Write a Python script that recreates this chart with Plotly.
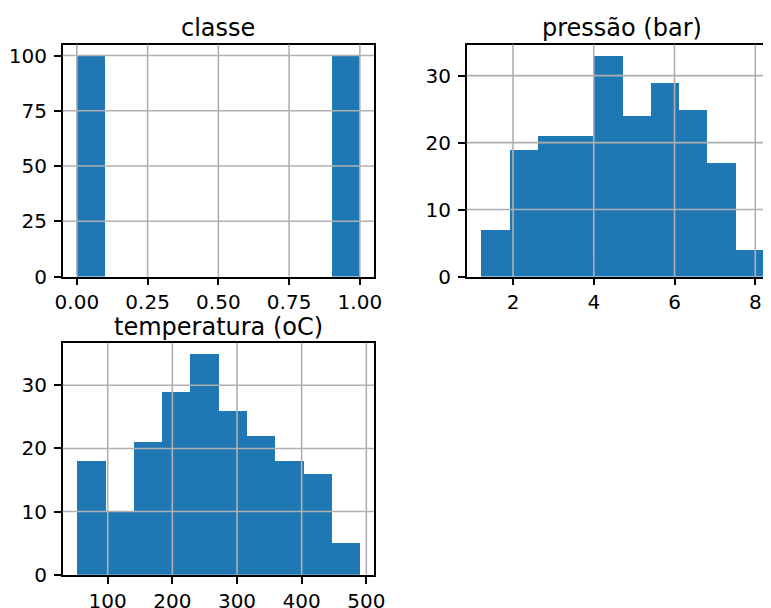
import plotly.graph_objects as go

# ---- data ----
classe_edges = [0.0, 0.1, 0.2, 0.3, 0.4, 0.5, 0.6, 0.7, 0.8, 0.9, 1.0]
classe_counts = [100, 0, 0, 0, 0, 0, 0, 0, 0, 100]

pressao_edges = [1.207, 1.907, 2.607, 3.307, 4.007, 4.707, 5.407, 6.107, 6.807, 7.507, 8.207]
pressao_counts = [7, 19, 21, 21, 33, 24, 29, 25, 17, 4]

temp_edges = [52.5, 96.3, 140.1, 183.9, 227.6, 271.4, 315.2, 359.0, 402.8, 446.6, 490.3]
temp_counts = [18, 10, 21, 29, 35, 26, 22, 18, 16, 5]

titles = ["classe", "pressão (bar)", "temperatura (oC)"]

classe_xticks = [0.0, 0.25, 0.5, 0.75, 1.0]
classe_yticks = [0, 25, 50, 75, 100]
pressao_xticks = [2, 4, 6, 8]
pressao_yticks = [0, 10, 20, 30]
temp_xticks = [100, 200, 300, 400, 500]
temp_yticks = [0, 10, 20, 30]

# ---- style / geometry ----
OFF = 8                      # default page body margin
W, H = 771 - OFF, 608 - OFF
BAR = "#1f77b4"
GRID = "#b0b0b0"
FONT = "DejaVu Sans"

def centers_widths(edges):
    c = [(edges[i] + edges[i + 1]) / 2 for i in range(len(edges) - 1)]
    w = [(edges[i + 1] - edges[i]) for i in range(len(edges) - 1)]
    return c, w

fig = go.Figure()
panels = [
    (classe_edges, classe_counts, "x", "y"),
    (pressao_edges, pressao_counts, "x2", "y2"),
    (temp_edges, temp_counts, "x3", "y3"),
]
for edges, counts, xa, ya in panels:
    c, w = centers_widths(edges)
    fig.add_trace(go.Bar(x=c, y=counts, width=w, marker=dict(color=BAR, line=dict(width=0)),
                         xaxis=xa, yaxis=ya, showlegend=False, hoverinfo="x+y"))

def px_x(p):
    return (p - OFF) / W

def px_y(p):
    return 1 - (p - OFF) / H

top1, bot1 = 44.5, 276.5
top2, bot2 = 342.7, 574.7
col1 = [px_x(62.7), px_x(374.0)]
col2 = [px_x(466.7), 1.0]

axis_common = dict(
    showgrid=False, zeroline=False, showline=True, linecolor="black", linewidth=1.6,
    ticks="outside", ticklen=7, tickwidth=1.6, tickcolor="black", automargin=False,
    tickfont=dict(family=FONT, size=20, color="black"), layer="above traces",
)
YSTAND = 3

fig.update_layout(
    width=W, height=H,
    margin=dict(l=0, r=0, t=0, b=0, autoexpand=False),
    paper_bgcolor="white", plot_bgcolor="white",
    bargap=0,
    font=dict(family=FONT, color="black"),
    xaxis=dict(domain=col1, range=[-0.05, 1.05], tickvals=classe_xticks, tickformat=".2f",
               anchor="y", mirror=True, **axis_common),
    yaxis=dict(domain=[px_y(bot1), px_y(top1)], range=[0, 105], tickvals=classe_yticks,
               anchor="x", mirror=True, ticklabelstandoff=YSTAND, **axis_common),
    xaxis2=dict(domain=col2, range=[0.853, 8.389], tickvals=pressao_xticks,
                anchor="y2", mirror=True, **axis_common),
    yaxis2=dict(domain=[px_y(bot1), px_y(top1)], range=[0, 34.65], tickvals=pressao_yticks,
                anchor="x2", mirror=False, ticklabelstandoff=YSTAND, **axis_common),
    xaxis3=dict(domain=col1, range=[30.4, 511.9], tickvals=temp_xticks,
                anchor="y3", mirror=True, **axis_common),
    yaxis3=dict(domain=[px_y(bot2), px_y(top2)], range=[0, 36.75], tickvals=temp_yticks,
                anchor="x3", mirror=True, ticklabelstandoff=YSTAND, **axis_common),
)

# gridlines drawn above bars (as in the matplotlib original)
shapes = []
grid_specs = [
    ("x", "y", classe_xticks, classe_yticks),
    ("x2", "y2", pressao_xticks, pressao_yticks),
    ("x3", "y3", temp_xticks, temp_yticks),
]
for xa, ya, xt, yt in grid_specs:
    for v in xt:
        shapes.append(dict(type="line", xref=xa, yref=ya + " domain", x0=v, x1=v, y0=0, y1=1,
                           line=dict(color=GRID, width=1.6), layer="above"))
    for v in yt:
        if v == 0:
            continue
        shapes.append(dict(type="line", xref=xa + " domain", yref=ya, x0=0, x1=1, y0=v, y1=v,
                           line=dict(color=GRID, width=1.6), layer="above"))
fig.update_layout(shapes=shapes)

# subplot titles
title_pos = [
    ((col1[0] + col1[1]) / 2, px_y(top1)),
    (px_x((466.7 + 778) / 2), px_y(top1)),
    ((col1[0] + col1[1]) / 2, px_y(top2)),
]
for t, (x, y) in zip(titles, title_pos):
    fig.add_annotation(text=t, x=x, y=y, xref="paper", yref="paper", xanchor="center",
                       yanchor="bottom", yshift=0, showarrow=False,
                       font=dict(family=FONT, size=24, color="black"))

fig.write_html("out.html")
